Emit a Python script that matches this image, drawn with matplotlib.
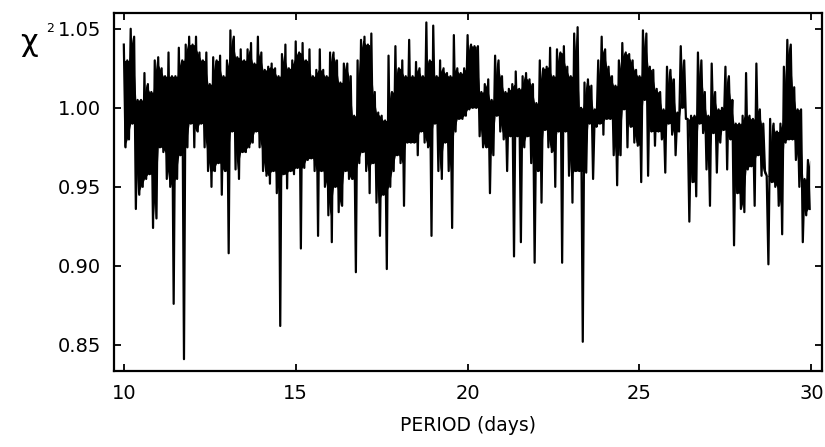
import numpy as np
import matplotlib
matplotlib.use('Agg')
import matplotlib.pyplot as plt

# chi^2 periodogram
# upper excursions at P = 10.0, 10.1, ... 29.9 and lower ones half a step later
periodo_ini = 10.0
passo = 0.1

chi_alto = [
    # 10.0 - 13.0
    1.040, 1.030, 1.050, 1.045, 1.005, 1.005, 1.022, 1.015, 1.010, 1.030,
    1.032, 1.025, 1.020, 1.035, 1.020, 1.020, 1.038, 1.030, 1.040, 1.045,
    1.040, 1.045, 1.035, 1.030, 1.035, 1.015, 1.032, 1.030, 1.033, 1.020,
    1.030,
    # 13.1 - 16.5
    1.049, 1.045, 1.032, 1.037, 1.030, 1.037, 1.041, 1.028, 1.045, 1.035,
    1.024, 1.026, 1.028, 1.025, 1.020, 1.034, 1.040, 1.025, 1.030, 1.042,
    1.035, 1.041, 1.030, 1.037, 1.020, 1.024, 1.037, 1.024, 1.020, 1.035,
    1.035, 1.030, 1.016, 1.028, 1.028,
    # 16.6 - 19.9
    1.020, 0.995, 1.030, 1.043, 1.045, 1.040, 1.047, 1.010, 0.997, 0.995,
    0.992, 1.033, 1.010, 1.039, 1.025, 1.030, 1.020, 1.043, 1.020, 1.029,
    1.025, 1.020, 1.054, 1.030, 1.052, 1.020, 1.030, 1.025, 1.022, 1.020,
    1.046, 1.025, 1.022, 1.025,
    # 20.0 - 23.3
    1.046, 1.040, 1.039, 1.039, 1.010, 1.015, 1.018, 1.005, 1.033, 1.030,
    1.020, 1.010, 1.012, 1.015, 1.023, 1.012, 1.020, 1.022, 1.018, 1.015,
    1.003, 1.030, 1.025, 1.026, 1.038, 1.020, 1.037, 1.035, 1.039, 1.026,
    1.020, 1.047, 1.051, 1.000,
    # 23.4 - 26.7
    1.016, 1.018, 1.014, 0.999, 1.030, 1.045, 1.037, 1.026, 1.020, 1.014,
    1.030, 1.041, 1.035, 1.034, 1.030, 1.024, 1.020, 1.049, 1.047, 1.026,
    1.024, 1.012, 1.010, 0.999, 1.026, 1.024, 1.018, 0.997, 1.039, 1.030,
    0.993, 0.995, 0.995, 1.035,
    # 26.8 - 29.9
    1.030, 1.010, 0.995, 1.028, 1.010, 0.999, 1.000, 1.026, 1.020, 1.005,
    0.990, 0.990, 0.995, 1.022, 0.995, 0.993, 1.028, 0.999, 0.990, 0.957,
    0.993, 0.990, 0.985, 0.990, 1.026, 1.043, 1.040, 1.013, 0.999, 0.999,
    0.955, 0.967,
]

chi_baixo = [
    # 10.05 - 13.05
    0.975, 0.980, 0.990, 0.936, 0.945, 0.950, 0.955, 0.958, 0.924, 0.930,
    0.975, 0.972, 0.955, 0.950, 0.876, 0.955, 0.970, 0.841, 0.975, 0.990,
    0.975, 0.985, 0.990, 0.975, 0.960, 0.950, 0.960, 0.965, 0.945, 0.960,
    0.908,
    # 13.15 - 16.55
    0.985, 0.961, 0.955, 0.972, 0.972, 0.975, 0.978, 0.985, 0.975, 0.960,
    0.957, 0.952, 0.960, 0.946, 0.862, 0.958, 0.949, 0.960, 0.958, 0.962,
    0.911, 0.962, 0.967, 0.968, 0.960, 0.919, 0.960, 0.950, 0.932, 0.915,
    0.950, 0.934, 0.938, 0.960, 0.955,
    # 16.65 - 19.95
    0.955, 0.896, 0.965, 0.972, 0.960, 0.946, 0.965, 0.940, 0.919, 0.945,
    0.898, 0.950, 0.960, 0.970, 0.965, 0.938, 0.978, 0.978, 0.978, 0.970,
    0.985, 0.978, 0.975, 0.919, 0.990, 0.960, 0.955, 0.978, 0.960, 0.924,
    0.985, 0.993, 0.993, 0.995,
    # 20.05 - 23.35
    0.999, 1.000, 1.000, 0.982, 0.975, 0.975, 0.946, 0.970, 0.995, 0.985,
    0.980, 0.960, 0.982, 0.906, 0.982, 0.915, 0.975, 0.982, 0.965, 0.902,
    0.960, 0.940, 0.986, 0.975, 0.972, 0.950, 0.985, 0.902, 0.985, 0.957,
    0.940, 0.960, 0.960, 0.852,
    # 23.45 - 26.75
    0.959, 0.990, 0.955, 0.988, 0.990, 0.983, 0.993, 0.993, 0.970, 0.951,
    0.970, 0.999, 0.975, 0.988, 0.978, 0.976, 0.953, 1.005, 0.957, 0.985,
    0.976, 0.985, 0.980, 0.959, 0.990, 0.983, 0.970, 0.985, 1.000, 0.993,
    0.928, 0.953, 0.944, 0.990,
    # 26.85 - 29.95
    0.984, 0.961, 0.938, 0.984, 0.959, 0.978, 0.986, 0.961, 0.980, 0.913,
    0.946, 0.936, 0.934, 0.961, 0.963, 0.938, 0.970, 0.957, 0.960, 0.901,
    0.953, 0.950, 0.938, 0.920, 0.978, 0.980, 0.980, 0.967, 0.950, 0.915,
    0.932, 0.936,
]

yticks = [0.85, 0.90, 0.95, 1.00, 1.05]
xticks = [10, 15, 20, 25, 30]

alto = np.array(chi_alto)
baixo = np.array(chi_baixo)
n = len(alto)
p_alto = periodo_ini + passo * np.arange(n)
p_baixo = p_alto + passo / 2

# intercala os maximos e minimos numa unica curva
periodo = np.empty(2 * n)
chi2 = np.empty(2 * n)
periodo[0::2] = p_alto
periodo[1::2] = p_baixo
chi2[0::2] = alto
chi2[1::2] = baixo

# nucleo denso da curva (no original e uma faixa toda preta):
# o menor de dois maximos vizinhos e o maior de dois minimos vizinhos
sup_b = np.minimum(alto, np.append(alto[1:], alto[-1]))
inf_a = np.maximum(baixo, np.insert(baixo[:-1], 0, baixo[0]))
nucleo_sup = np.interp(periodo, p_baixo, sup_b)
nucleo_inf = np.minimum(np.interp(periodo, p_alto, inf_a), nucleo_sup)

fig = plt.figure(figsize=(8.25, 4.47), dpi=100)
ax = fig.add_axes([0.138, 0.170, 0.858, 0.801])

ax.fill_between(periodo, nucleo_inf, nucleo_sup, color='black', lw=0)
ax.plot(periodo, chi2, color='black', lw=1.6)

ax.set_xlim(9.71, 30.3)
ax.set_ylim(0.8335, 1.060)
ax.set_xticks(xticks)
ax.set_xticklabels([str(t) for t in xticks])
ax.set_yticks(yticks)
ax.set_yticklabels([f'{t:.2f}' for t in yticks])

ax.tick_params(direction='in', length=5, width=1.3, labelsize=14,
               top=True, right=True, pad=9)
for lado in ax.spines.values():
    lado.set_linewidth(1.6)

ax.set_xlabel('PERIOD (days)', fontsize=13.5, labelpad=10)
fig.text(0.024, 0.905, 'χ', fontsize=22, ha='left', va='center')
fig.text(0.056, 0.937, '2', fontsize=9, ha='left', va='center')

fig.savefig('out.png', dpi=100)
